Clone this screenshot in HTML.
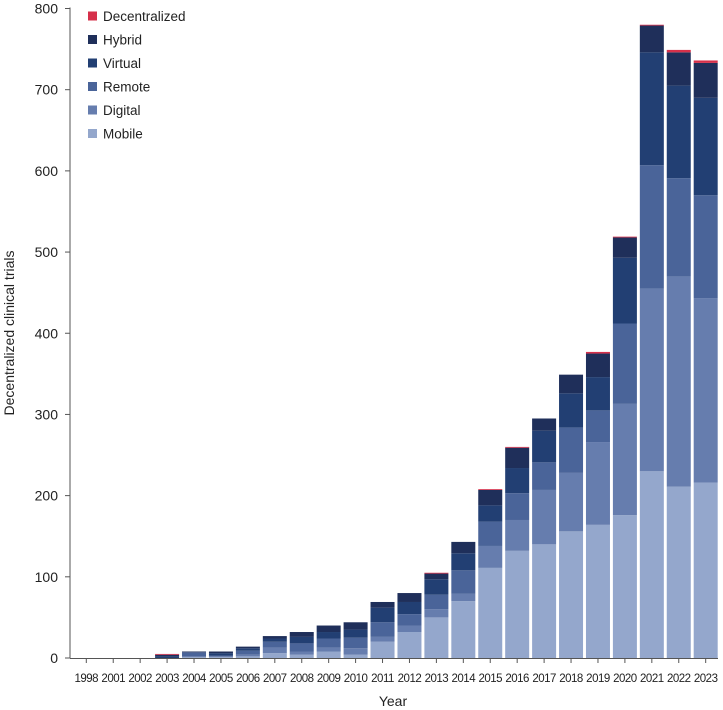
<!DOCTYPE html>
<html><head><meta charset="utf-8"><style>
body{margin:0;background:#fff;}
svg{display:block;font-family:"Liberation Sans",sans-serif;}
</style></head><body>
<svg id="chart" width="723" height="710"></svg>
<script>
const categories=["1998","2001","2002","2003","2004","2005","2006","2007","2008","2009","2010","2011","2012","2013","2014","2015","2016","2017","2018","2019","2020","2021","2022","2023"];
const mobile=[0,0,0,0,1,1,2,6,4,8,4,20,32,50,70,111,132,140,156,164,176,230,211,216];
const digital=[0,0,0,0,1,1,2,7,4,5,8,6,8,10,9,27,38,67,72,102,137,225,259,227];
const remote=[0,0,0,0,5,1,5,7,10,11,13,18,14,18,29,30,33,34,56,39,99,152,121,127];
const virtual=[0,0,0,2,0,3,3,4,8,8,10,18,15,19,21,20,31,39,42,41,81,139,114,120];
const hybrid=[0,0,0,2,1,2,2,3,6,8,9,7,11,7,14,19,25,15,23,29,25,33,41,43];
const decentralized=[0,0,0,1,0,0,0,0,0,0,0,0,0,1,0,1,1,0,0,2,1,1,3,3];
const yTicks=[0,100,200,300,400,500,600,700,800];
const seriesNames=["Mobile","Digital","Remote","Virtual","Hybrid","Decentralized"];
const series=[mobile,digital,remote,virtual,hybrid,decentralized];
const colors=["#94a7cc","#667dae","#4a6499","#223f73","#1f2f5a","#d6304a"];
const NS="http://www.w3.org/2000/svg";
const svg=document.getElementById("chart");
const y0=658,yTop=8.5,x0=86.3,step=26.93,bw=24;
function yScale(v){return y0-(v/800)*(y0-yTop);}
function xScale(i){return x0+i*step;}
function mk(tag,attrs){const e=document.createElementNS(NS,tag);for(const k in attrs)e.setAttribute(k,attrs[k]);svg.appendChild(e);return e;}
categories.forEach((c,i)=>{
  let cum=0;
  series.forEach((s,j)=>{
    const v=s[i]; if(v<=0)return;
    const r=mk("rect",{x:xScale(i)-bw/2,y:yScale(cum+v),width:bw,height:yScale(cum)-yScale(cum+v),fill:colors[j]});
    
    
    cum+=v;
  });
});
const ya=mk("line",{x1:70,y1:yTop-1,x2:70,y2:y0,stroke:"#555","stroke-width":1});


yTicks.forEach(t=>{
  const y=yScale(t);
  const tk=mk("line",{x1:65,y1:y,x2:70,y2:y,stroke:"#555"});
  
  
  const tx=mk("text",{x:58,y:y+5,"text-anchor":"end","font-size":14,fill:"#222"});
  tx.textContent=t;
  
  
});
const xa=mk("line",{x1:70,y1:y0+0.5,x2:718,y2:y0+0.5,stroke:"#555"});


categories.forEach((c,i)=>{
  const x=xScale(i);
  const tk=mk("line",{x1:x,y1:y0,x2:x,y2:y0+5,stroke:"#555"});
  
  
  const tx=mk("text",{x:x,y:682,"text-anchor":"middle","font-size":11.5,fill:"#222","letter-spacing":"-0.5"});
  tx.textContent=c;
  
  
});
const xt=mk("text",{x:393,y:706,"text-anchor":"middle","font-size":14,fill:"#222"});
xt.textContent="Year";


const yt=mk("text",{x:0,y:0,"text-anchor":"middle","font-size":14,fill:"#222",transform:"translate(14,333) rotate(-90)"});
yt.textContent="Decentralized clinical trials";


const legendOrder=[5,4,3,2,1,0];
legendOrder.forEach((j,k)=>{
  const cy=16+k*23.5;
  const g=mk("g",{});
  
  
  const r=document.createElementNS(NS,"rect");
  r.setAttribute("x",88);r.setAttribute("y",cy-4.5);r.setAttribute("width",9);r.setAttribute("height",9);r.setAttribute("fill",colors[j]);
  
  
  g.appendChild(r);
  const t=document.createElementNS(NS,"text");
  t.setAttribute("x",103);t.setAttribute("y",cy+5);t.setAttribute("font-size",13.5);t.setAttribute("fill","#222");
  t.textContent=seriesNames[j];
  
  
  g.appendChild(t);
});
</script>
</body></html>
